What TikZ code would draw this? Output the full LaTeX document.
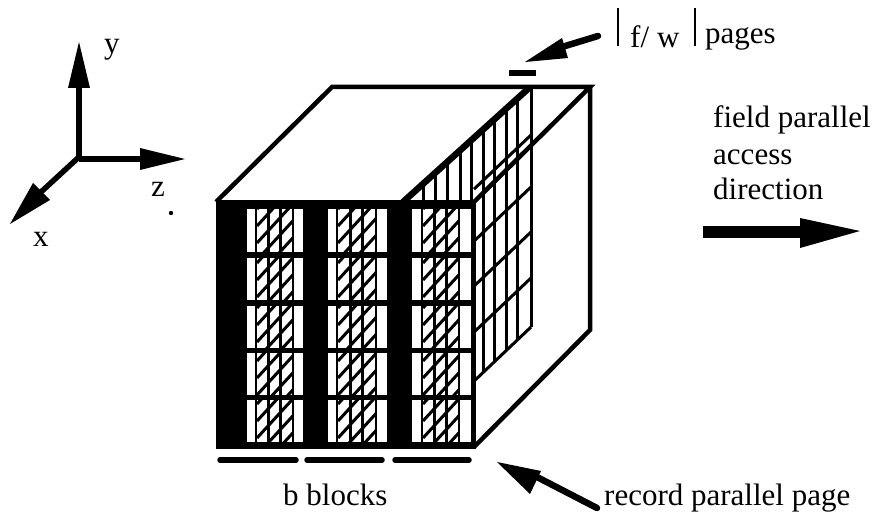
\documentclass[tikz,border=0pt]{standalone}
\usepackage{fontspec}
\setmainfont{Liberation Serif}
\tikzset{
  lbl/.style={anchor=base west,inner sep=0pt,font=\fontsize{31}{36}\selectfont},
  edge3/.style={draw=black,line width=4.5pt,line join=miter},
  grid3/.style={draw=black,line width=3pt},
  shaft/.style={draw=black,line width=5.5pt},
  headfill/.style={fill=black,draw=none},
  underbar/.style={draw=black,line width=5.5pt,line cap=round}
}
\newcommand{\hatchblock}[8]{%
% #1 x0 white, #2 hatch x0, #3 hatch x1, #4 x1 white, #5 y0, #6 y1
\fill[white] (#1,#5) rectangle (#4,#6);
\fill[black] (#2-2,#5) rectangle (#3+2,#6);
\begin{scope}
\clip (#2,#5) rectangle (#3,#6);
\fill[white] (#2,#5) rectangle (#3,#6);
\pgfmathsetmacro{\wd}{(#3-#2)/3}
\draw[black,line width=2.4pt] (#2+\wd,#5) -- (#2+\wd,#6) (#2+2*\wd,#5) -- (#2+2*\wd,#6);
\foreach \k in {-1,0,...,5}{
  \draw[black,line width=3pt] (#2,#5+\k*17+#7) -- (#2+44,#5+\k*17+#7-48);
}
\end{scope}}
\begin{document}
\begin{tikzpicture}[x=1pt,y=-1pt]
\useasboundingbox (0,0) rectangle (877,521);
\fill[white] (0,0) rectangle (877,521);

% cube corners
\coordinate (fl) at (216,202);
\coordinate (fr) at (474,202);
\coordinate (br) at (474,447);
\coordinate (bl) at (216,447);
\coordinate (tl) at (332,87);
\coordinate (tr) at (590,87);
\coordinate (rb) at (590,330);
% cube top and right faces
\draw[edge3] (fl) -- (tl) -- (tr) -- (fr);
\draw[edge3] (tr) -- (rb) -- (br);

% inner page
\foreach \x in {423,435,447,460,471,483,494,506,517,531}{
  \pgfmathsetmacro{\ytop}{202-(\x-403)*0.89}
  \pgfmathsetmacro{\ybot}{\x<474 ? 205 : 327+(531-\x)*0.95}
  \draw[grid3] (\x,\ytop) -- (\x,\ybot);
}
\foreach \y in {135,187,232,278,327}{
  \pgfmathsetmacro{\xl}{max(531-(\y<140 ? 70 : 57),474)}
  \pgfmathsetmacro{\yl}{\y+(531-\xl)*0.95}
  \draw[grid3] (531,\y) -- (\xl,\yl);
}
\draw[draw=black,line width=6.5pt] (403,202) -- (529,88);

% front face
\fill[black] (216,200) rectangle (476,449);
\foreach \yy/\yb/\o in {209/252/0,258/300/5,306/348/2,353/395/8,400/442/4}{
  \hatchblock{247}{257}{292}{303}{\yy}{\yb}{\o}{}
  \hatchblock{328}{338}{375}{387}{\yy}{\yb}{\o}{}
  \hatchblock{412}{423}{458}{471}{\yy}{\yb}{\o}{}
}

% under bars
\draw[underbar] (220,460) -- (296,460);
\draw[underbar] (307,460) -- (382,460);
\draw[underbar] (395,460) -- (469,460);
\node[lbl] (bblocks) at (283,505) {b blocks};

% small bar above page
\draw[draw=black,line width=5.5pt] (509,73) -- (536,73);

% axes
\coordinate (o) at (79,159);
\coordinate (ya) at (79,85);
\coordinate (za) at (142,159);
\coordinate (xa) at (41,192);
\draw[shaft] (o) -- (ya);
\draw[shaft] (o) -- (za);
\draw[shaft] (79,157) -- (xa);
\fill[headfill] (79,42) -- (90,88) -- (68,88) -- cycle;
\fill[headfill] (185,159) -- (140,148) -- (140,170) -- cycle;
\fill[headfill] (10,224) -- (33,183) -- (50,200) -- cycle;
\node[lbl] (ylab) at (104,54) {y};
\node[lbl] (zlab) at (151,197) {z};
\node[lbl] (xlab) at (33,246) {x};
\fill[black] (171,213) circle (2.2pt);

% |f/w| pages
\draw[draw=black,line width=2.5pt] (618,8) -- (618,46);
\draw[draw=black,line width=2.5pt] (695,8) -- (695,46);
\node[lbl] (flab) at (630,48) {f/};
\node[lbl] (wlab) at (657,48) {w};
\node[lbl] (pages) at (705,44) {pages};
\coordinate (fwtail) at (598,36);
\coordinate (fwbase) at (562,47);
\draw[draw=black,line width=6.5pt,line cap=round] (fwtail) -- (fwbase);
\fill[headfill] (525,62) -- (562,38) -- (568,58) -- cycle;

% field parallel
\node[lbl] (field) at (713,128) {field parallel};
\node[lbl] (access) at (713,165) {access};
\node[lbl] (direction) at (713,200) {direction};
\fill[black] (703,226) rectangle (802,238);
\fill[headfill] (860,231) -- (800,218) -- (800,248) -- cycle;

% record parallel page
\node[lbl] (record) at (604,505) {record parallel page};
\coordinate (rectail) at (597,508);
\coordinate (recbase) at (535,476);
\draw[draw=black,line width=6.5pt,line cap=round] (rectail) -- (recbase);
\fill[headfill] (497,462) -- (541,471) -- (530,494) -- cycle;
\end{tikzpicture}
\end{document}
